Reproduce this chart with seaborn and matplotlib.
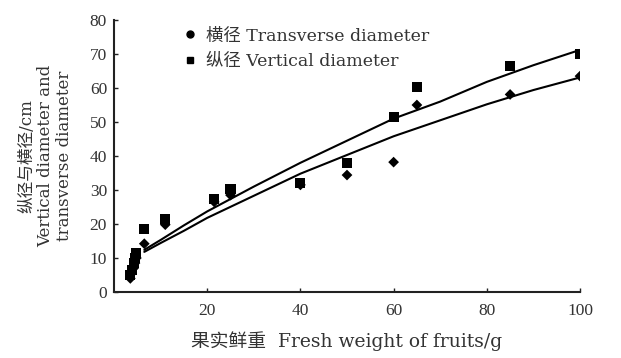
import matplotlib
matplotlib.use("Agg")
import matplotlib.pyplot as plt
from matplotlib.lines import Line2D
import seaborn as sns
import pandas as pd

# ---- data ----
fresh_weight = [3.5, 3.8, 4.2, 4.5, 4.8, 6.5, 11, 21.5, 25, 40, 50, 60, 65, 85, 100]
vertical_d = [5.0, 6.5, 8.5, 10.0, 11.5, 18.5, 21.5, 27.3, 30.3, 32.0, 37.8, 51.4, 60.2, 66.5, 70.0]
transverse_d = [4.0, 5.5, 7.0, 8.5, 10.0, 14.2, 19.8, 26.5, 28.5, 31.5, 34.4, 38.2, 55.0, 58.1, 63.5]

curve_x = [6.5, 10, 15, 20, 30, 40, 50, 60, 70, 80, 90, 100]
curve_vertical = [12.4, 15.3, 19.6, 23.7, 31.0, 38.0, 44.5, 51.0, 56.0, 61.8, 66.7, 71.2]
curve_transverse = [11.8, 14.4, 18.0, 21.8, 28.3, 34.8, 40.3, 45.8, 50.5, 55.2, 59.4, 63.1]

x_ticks = [20, 40, 60, 80, 100]
y_ticks = [0, 10, 20, 30, 40, 50, 60, 70, 80]

label_transverse = "横径 Transverse diameter"
label_vertical = "纵径 Vertical diameter"
x_label = "果实鲜重  Fresh weight of fruits/g"
y_label = "纵径与横径/cm\nVertical diameter and\ntransverse diameter"

sns.set_theme(style="white")
tick_fam = ["Liberation Serif", "Noto Sans CJK SC", "DejaVu Sans"]
text_fam = ["DejaVu Serif", "Noto Sans CJK SC", "DejaVu Sans"]
plt.rcParams["font.family"] = tick_fam
txt = "#333333"

pts = pd.DataFrame({
    "w": fresh_weight * 2,
    "d": vertical_d + transverse_d,
    "s": ["V"] * len(vertical_d) + ["T"] * len(transverse_d),
})
crv = pd.DataFrame({
    "w": curve_x * 2,
    "d": curve_vertical + curve_transverse,
    "s": ["V"] * len(curve_x) + ["T"] * len(curve_x),
})

fig = plt.figure(figsize=(6.21, 3.58), dpi=100)
ax = fig.add_axes([114 / 621, 1 - 292 / 358, 466 / 621, 272 / 358])

sns.lineplot(data=crv, x="w", y="d", units="s", estimator=None, color="black",
             linewidth=1.5, ax=ax, legend=False)
sns.scatterplot(data=pts[pts.s == "V"], x="w", y="d", marker="s", color="black",
                s=52, edgecolor="none", ax=ax, legend=False, zorder=3)
sns.scatterplot(data=pts[pts.s == "T"], x="w", y="d", marker="D", color="black",
                s=30, edgecolor="none", ax=ax, legend=False, zorder=3)

ax.set_xlim(0, 100)
ax.set_ylim(0, 80)
ax.set_xticks(x_ticks)
ax.set_yticks(y_ticks)
for s in ["top", "right"]:
    ax.spines[s].set_visible(False)
for s in ["left", "bottom"]:
    ax.spines[s].set_color("#222222")
    ax.spines[s].set_linewidth(1.5)
ax.tick_params(axis="both", direction="in", length=3, width=1, colors="#222222",
               labelsize=12.5, labelcolor=txt, left=True, bottom=True)
ax.tick_params(axis="x", pad=8)
ax.tick_params(axis="y", pad=5)

ax.set_xlabel(x_label, fontsize=13.5, color=txt, labelpad=9, family=text_fam)
ax.set_ylabel(y_label, fontsize=12, color=txt, labelpad=12, linespacing=1.15,
              family=text_fam)

handles = [
    Line2D([], [], marker="o", color="black", linestyle="none", markersize=5),
    Line2D([], [], marker="s", color="black", linestyle="none", markersize=5),
]
ax.legend(handles, [label_transverse, label_vertical], loc="upper left",
          bbox_to_anchor=(0.11, 1.03), frameon=False,
          prop={"family": text_fam, "size": 12.5},
          handletextpad=0.45, labelspacing=0.5, labelcolor=txt, handlelength=1.0)

fig.savefig("out.png", dpi=100)
